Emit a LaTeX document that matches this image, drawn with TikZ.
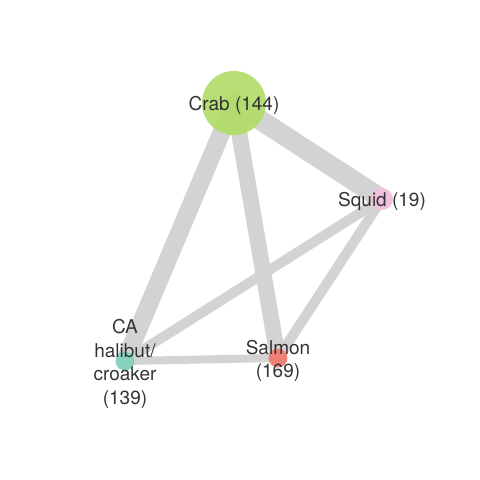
\documentclass[tikz,border=0pt]{standalone}
\usepackage{fontspec}
\setmainfont{TeX Gyre Heros}
\usetikzlibrary{backgrounds}
\definecolor{crabgreen}{HTML}{B0DC66}
\definecolor{squidpink}{HTML}{F6C0E0}
\definecolor{salmonred}{HTML}{F2786C}
\definecolor{halibutteal}{HTML}{80D4BE}
\definecolor{edgegray}{HTML}{D3D3D3}
\definecolor{txtgray}{HTML}{333333}
\begin{document}
\begin{tikzpicture}[
    x=1pt,y=-1pt,
    spp/.style={circle,draw=none,fill opacity=0.9,inner sep=0pt},
    lbl/.style={text=txtgray,align=center,inner sep=0pt,yshift=-2pt,font=\fontsize{19}{23.5}\selectfont},
    link/.style={draw=edgegray,line cap=round}
    ]
        \useasboundingbox (0,0) rectangle (480,480);
        \node [spp,fill=crabgreen,minimum size=64pt](crab) at (234,103) {};
        \node [spp,fill=squidpink,minimum size=22pt](squid) at (382,199) {};
        \node [spp,fill=salmonred,minimum size=19pt](salmon) at (278,358) {};
        \node [spp,fill=halibutteal,minimum size=19pt](halibut) at (125,361) {};
        \begin{scope}[on background layer]
        \draw [link,line width=20pt] (crab.center) -- (squid.center);
        \draw [link,line width=18pt] (crab.center) -- (halibut.center);
        \draw [link,line width=16pt] (crab.center) -- (salmon.center);
        \draw [link,line width=10pt] (squid.center) -- (halibut.center);
        \draw [link,line width=10pt] (squid.center) -- (salmon.center);
        \draw [link,line width=8pt] (halibut.center) -- (salmon.center);
        \end{scope}
        \node [lbl](crablbl) at (crab) {Crab (144)};
        \node [lbl](squidlbl) at (squid) {Squid (19)};
        \node [lbl,yshift=-1pt](salmonlbl) at (salmon) {Salmon\\(169)};
        \node [lbl,yshift=-1pt](halibutlbl) at (halibut) {CA\\halibut/\\croaker\\(139)};
\end{tikzpicture}
\end{document}
